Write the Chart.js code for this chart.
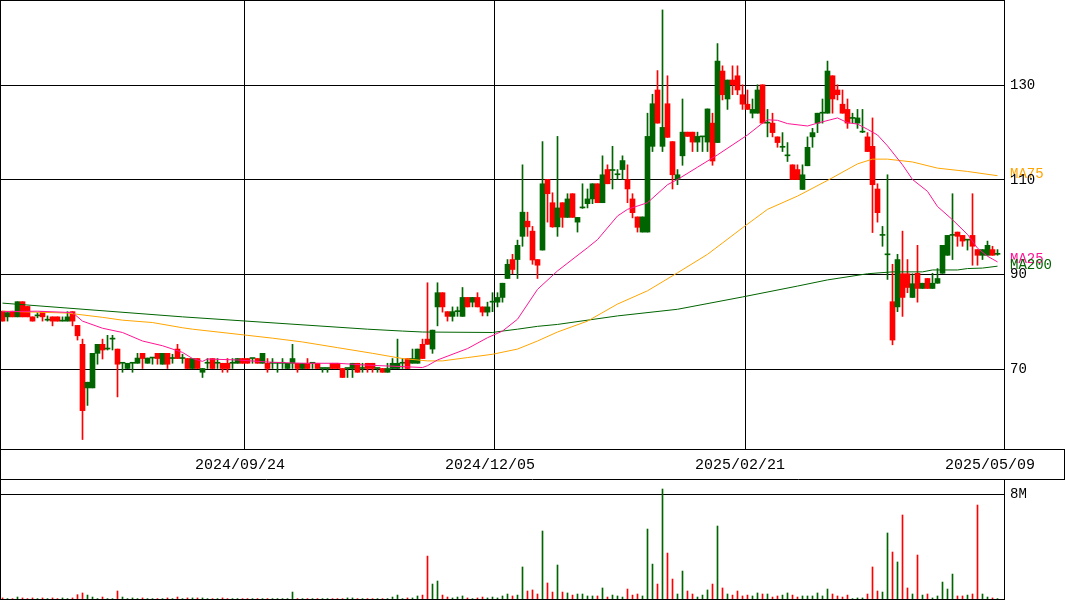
<!DOCTYPE html>
<html>
<head>
<meta charset="utf-8">
<script src="https://cdn.jsdelivr.net/npm/chart.js@4.4.1/dist/chart.umd.min.js"></script>
<style>
  html, body { margin: 0; padding: 0; background: #fff; }
  #wrap { position: relative; width: 1065px; height: 600px; }
  #price { position: absolute; left: 0; top: 0; }
  #volume { position: absolute; left: 0; top: 479px; }
</style>
</head>
<body>
<div id="wrap">
  <canvas id="price" width="1065" height="479"></canvas>
  <canvas id="volume" width="1065" height="121"></canvas>
</div>
<script>
// Daily candles, oldest first (200 sessions)
const openP = [
  82.3, 81.1, 82.3, 81.1, 84.3, 83.3, 81.1, 81.3, 82.2, 80.4,
  81.1, 81.1, 80.2, 80.2, 82.2, 79.3, 75.3, 66.1, 66.1, 73.4,
  75.3, 74.3, 76.4, 74.3, 71.3, 70.2, 71.3, 71.3, 73.4, 71.3,
  72.4, 73.4, 71.1, 73.4, 72.3, 74.3, 72.3, 72.3, 70.2, 72.3,
  69.4, 71.3, 72.3, 71.3, 71.3, 71.3, 71.3, 71.3, 72.3, 72.3,
  72.3, 72.3, 71.3, 71.3, 71.3, 71.3, 71.3, 70.2, 71.3, 71.3,
  70.2, 71.3, 71.3, 71.3, 70.2, 70.2, 71.3, 71.3, 70.2, 70.2,
  70.2, 71.3, 70.2, 71.3, 71.3, 70.2, 70.2, 69.4, 70.2, 70.2,
  71.3, 72.3, 71.3, 71.3, 75.3, 76.4, 74.3, 83.2, 86.2, 82.2,
  81.2, 82.2, 81.2, 85.2, 84.2, 85.2, 83.2, 82.1, 84.2, 84.2,
  85.2, 89.2, 93.2, 93.2, 98.1, 101.3, 99.2, 93.2, 95.2, 110.1,
  105.2, 100.1, 105.2, 102.1, 107.1, 101.1, 104.1, 105.0, 106.0, 109.2,
  105.2, 112.2, 112.0, 111.1, 112.2, 110.1, 106.0, 102.2, 99.0, 99.0,
  117.1, 129.0, 117.1, 126.1, 118.1, 110.1, 115.1, 120.1, 120.1, 118.0,
  119.1, 118.0, 122.0, 117.9, 133.0, 127.1, 131.1, 132.0, 128.0, 126.0,
  124.1, 124.1, 130.1, 122.0, 122.0, 119.1, 116.9, 115.1, 113.2, 112.2,
  108.0, 113.0, 119.1, 122.0, 124.1, 124.1, 132.0, 129.0, 126.0, 124.9,
  123.0, 122.0, 120.1, 119.1, 117.1, 108.1, 98.3, 94.2, 84.3, 83.2,
  90.2, 90.2, 85.2, 90.3, 87.1, 89.2, 87.1, 88.2, 90.3, 94.1,
  98.3, 99.0, 98.3, 97.3, 98.3, 95.3, 94.1, 94.1, 95.3, 94.3
];
const highP = [
  82.3, 82.0, 82.3, 84.3, 84.3, 83.3, 81.1, 82.0, 82.2, 81.3,
  81.1, 81.1, 81.1, 82.2, 82.2, 79.3, 76.4, 67.3, 73.4, 75.3,
  76.4, 77.2, 77.2, 74.3, 71.3, 71.3, 71.3, 73.4, 73.4, 72.4,
  72.4, 73.4, 73.4, 73.4, 73.2, 75.3, 73.2, 72.3, 72.3, 72.3,
  70.2, 72.3, 72.3, 72.3, 71.3, 72.3, 72.3, 72.3, 72.3, 72.3,
  72.3, 72.3, 73.4, 72.3, 72.3, 71.3, 72.3, 71.3, 75.3, 71.3,
  71.3, 72.3, 71.3, 71.3, 70.2, 70.2, 71.3, 71.3, 70.2, 70.2,
  71.3, 71.3, 71.3, 71.3, 71.3, 70.2, 70.2, 71.3, 72.3, 76.4,
  72.3, 72.3, 74.3, 74.3, 76.4, 88.3, 78.3, 88.3, 86.2, 82.2,
  83.2, 83.2, 87.3, 85.2, 85.2, 86.2, 83.2, 84.2, 86.2, 86.2,
  88.2, 93.2, 94.3, 97.3, 113.2, 103.2, 100.2, 93.2, 118.1, 110.1,
  107.3, 119.2, 105.2, 107.1, 107.1, 102.1, 109.2, 108.1, 109.2, 109.2,
  115.1, 113.2, 117.1, 112.2, 115.1, 113.2, 107.1, 102.2, 102.2, 124.1,
  128.1, 133.1, 145.9, 132.0, 118.1, 112.2, 127.1, 120.1, 120.1, 120.1,
  119.1, 125.0, 124.1, 138.8, 134.1, 131.1, 134.1, 134.1, 130.1, 129.0,
  127.1, 130.1, 130.1, 124.9, 124.1, 119.1, 120.0, 117.9, 113.2, 113.2,
  113.2, 119.1, 120.9, 124.1, 127.1, 135.1, 132.0, 130.1, 129.0, 127.1,
  124.1, 124.9, 124.9, 120.0, 123.1, 109.2, 100.2, 111.1, 92.2, 94.3,
  99.2, 93.2, 90.2, 96.2, 88.2, 89.2, 90.3, 91.3, 96.2, 98.3,
  107.1, 99.0, 98.3, 97.3, 107.1, 95.3, 95.3, 97.1, 96.0, 95.3
];
const lowP = [
  80.2, 80.2, 81.1, 81.1, 81.1, 81.1, 80.2, 80.9, 80.2, 80.2,
  79.2, 80.2, 80.2, 80.2, 79.2, 76.2, 55.2, 62.4, 66.1, 71.1,
  72.2, 74.1, 74.1, 64.2, 69.4, 70.2, 69.4, 71.3, 70.2, 71.3,
  71.1, 71.1, 71.1, 70.2, 71.3, 72.3, 71.3, 70.2, 70.2, 70.2,
  68.3, 70.2, 70.2, 70.2, 69.4, 69.4, 70.2, 71.3, 71.3, 71.3,
  71.3, 71.3, 71.3, 69.4, 70.2, 69.4, 70.2, 70.2, 70.2, 69.4,
  70.2, 70.2, 70.2, 70.2, 69.4, 69.4, 70.2, 70.2, 68.3, 68.3,
  68.3, 69.4, 69.4, 69.4, 69.4, 69.4, 69.4, 69.4, 70.2, 70.2,
  70.2, 70.2, 71.3, 71.3, 72.3, 75.3, 73.4, 79.2, 82.1, 80.2,
  80.2, 81.2, 81.2, 83.2, 83.2, 83.2, 81.3, 81.3, 82.2, 83.2,
  84.2, 89.2, 90.2, 89.2, 96.0, 98.1, 92.2, 89.2, 95.2, 101.1,
  100.0, 98.1, 100.0, 102.1, 102.1, 99.0, 104.0, 104.1, 105.0, 105.2,
  105.2, 109.2, 108.1, 110.1, 110.1, 105.2, 102.0, 99.0, 99.0, 99.0,
  116.0, 122.0, 116.0, 119.0, 108.1, 109.0, 113.1, 119.2, 116.0, 116.0,
  116.0, 116.0, 113.1, 117.9, 126.9, 124.9, 128.0, 128.0, 124.9, 124.9,
  123.1, 124.1, 122.0, 119.1, 119.1, 116.9, 116.0, 113.9, 110.1, 110.1,
  108.0, 113.0, 116.9, 120.0, 122.0, 124.1, 124.1, 126.9, 124.1, 120.9,
  122.0, 120.9, 120.0, 116.0, 98.9, 101.1, 96.0, 89.0, 75.2, 82.2,
  81.2, 86.2, 85.2, 84.2, 87.1, 87.1, 87.1, 88.2, 90.3, 94.1,
  93.2, 96.0, 96.0, 95.2, 92.0, 92.0, 93.2, 94.1, 94.1, 94.1
];
const closeP = [
  80.2, 82.0, 81.1, 84.3, 81.1, 81.1, 80.2, 81.3, 81.1, 80.4,
  80.2, 80.2, 80.2, 81.1, 80.2, 77.1, 61.3, 67.3, 73.4, 75.3,
  74.1, 74.3, 76.4, 71.1, 71.3, 71.3, 71.3, 72.4, 72.3, 72.4,
  72.4, 72.3, 73.4, 71.1, 72.3, 72.3, 72.3, 70.2, 72.3, 70.2,
  70.2, 71.3, 70.2, 71.3, 70.2, 70.2, 71.3, 72.3, 71.3, 71.3,
  72.3, 71.3, 73.4, 70.2, 71.3, 71.3, 71.3, 71.3, 72.3, 70.2,
  71.3, 70.2, 71.3, 70.2, 70.2, 70.2, 70.2, 70.2, 68.3, 70.2,
  71.3, 69.4, 70.2, 70.2, 70.2, 70.2, 69.4, 70.2, 71.3, 71.3,
  71.3, 70.2, 72.3, 74.3, 72.3, 75.3, 78.3, 86.2, 83.2, 81.2,
  82.2, 82.2, 85.2, 83.2, 85.2, 83.2, 82.1, 83.2, 84.2, 85.2,
  88.2, 92.2, 91.1, 96.2, 103.2, 100.1, 93.1, 92.0, 109.2, 107.1,
  100.1, 104.1, 102.1, 106.0, 102.1, 102.1, 104.1, 106.0, 109.2, 105.2,
  111.1, 109.2, 112.0, 111.1, 114.1, 108.1, 103.1, 100.0, 102.2, 119.2,
  126.1, 122.0, 121.1, 119.0, 111.1, 111.1, 120.1, 119.2, 118.0, 119.2,
  119.1, 125.0, 114.0, 135.1, 128.0, 131.1, 130.1, 129.0, 126.0, 124.9,
  124.9, 129.0, 122.0, 122.0, 120.0, 117.9, 116.9, 115.1, 110.1, 110.1,
  111.1, 116.9, 120.0, 124.1, 124.1, 133.0, 127.1, 128.0, 124.1, 122.0,
  123.0, 123.1, 120.1, 116.0, 109.0, 103.1, 98.3, 94.2, 76.2, 93.2,
  85.2, 87.3, 88.1, 87.1, 88.2, 87.1, 88.2, 89.2, 96.2, 98.3,
  98.3, 98.1, 97.1, 97.3, 96.0, 94.1, 95.3, 96.2, 94.1, 94.3
];
// Volume in millions of shares
const volumeM = [
  0.08, 0.03, 0.03, 0.15, 0.08, 0.03, 0.08, 0.03, 0.08, 0.03,
  0.08, 0.03, 0.08, 0.03, 0.08, 0.33, 0.46, 0.30, 0.15, 0.03,
  0.15, 0.03, 0.03, 0.61, 0.15, 0.03, 0.08, 0.03, 0.08, 0.03,
  0.03, 0.03, 0.03, 0.08, 0.03, 0.15, 0.03, 0.08, 0.08, 0.08,
  0.08, 0.03, 0.03, 0.03, 0.08, 0.03, 0.03, 0.03, 0.03, 0.03,
  0.03, 0.03, 0.03, 0.03, 0.03, 0.03, 0.03, 0.03, 0.53, 0.03,
  0.03, 0.03, 0.03, 0.03, 0.03, 0.03, 0.03, 0.03, 0.03, 0.08,
  0.08, 0.03, 0.03, 0.03, 0.03, 0.03, 0.03, 0.03, 0.15, 0.30,
  0.03, 0.08, 0.08, 0.23, 0.30, 3.27, 1.14, 1.37, 0.30, 0.15,
  0.08, 0.15, 0.23, 0.08, 0.03, 0.08, 0.15, 0.08, 0.15, 0.08,
  0.23, 0.38, 0.23, 0.30, 2.44, 0.61, 0.69, 0.38, 5.18, 1.22,
  0.53, 2.59, 0.53, 0.46, 0.30, 0.38, 0.38, 0.23, 0.23, 0.23,
  0.84, 0.15, 0.30, 0.23, 0.15, 0.76, 0.30, 0.38, 0.23, 5.33,
  2.66, 1.14, 8.38, 3.50, 1.52, 0.38, 2.13, 0.61, 0.38, 0.15,
  0.30, 0.69, 1.14, 5.56, 0.84, 0.38, 0.30, 0.61, 0.23, 0.30,
  0.23, 0.46, 0.38, 0.38, 0.15, 0.23, 0.30, 0.46, 0.30, 0.15,
  0.23, 0.23, 0.23, 0.46, 0.23, 0.76, 0.38, 0.23, 0.15, 0.30,
  0.03, 0.08, 0.08, 0.38, 2.44, 0.61, 0.53, 5.03, 3.58, 2.82,
  6.40, 0.84, 0.38, 3.35, 0.30, 0.38, 0.08, 0.23, 1.29, 0.76,
  1.90, 0.23, 0.23, 0.30, 0.38, 7.16, 0.38, 0.15, 0.08, 0.03
];

// Moving averages, sampled at session indices
const ma25Idx = [0, 7, 14, 16, 20, 24, 28, 32, 36, 38, 40, 41, 47, 51, 54, 60, 67, 73, 80, 84, 85, 87, 93, 97, 100, 103, 107, 111, 117, 119, 123, 125, 129, 133, 135, 139, 143, 149, 152, 153, 155, 157, 161, 163, 167, 169, 171, 173, 175, 177, 180, 182, 185, 187, 190, 193, 195, 197, 199];
const ma25Val = [82.2, 82.3, 82.0, 80.2, 78.7, 77.8, 76.0, 75.0, 73.6, 72.3, 71.7, 72.2, 72.0, 71.7, 71.5, 71.3, 71.3, 70.9, 70.6, 70.4, 70.8, 72.0, 74.4, 76.7, 78.1, 80.6, 86.9, 90.8, 95.7, 97.4, 102.4, 103.8, 105.2, 109.0, 110.1, 112.7, 115.3, 119.5, 122.0, 122.7, 122.6, 121.9, 121.4, 122.0, 123.1, 122.1, 121.8, 120.7, 119.5, 117.2, 113.2, 110.1, 107.6, 104.4, 101.6, 98.5, 95.6, 93.9, 92.7];
const ma75Idx = [0, 13, 20, 24, 30, 36, 38, 49, 54, 60, 67, 74, 80, 85, 88, 93, 98, 103, 107, 111, 117, 123, 129, 135, 141, 148, 153, 159, 165, 171, 174, 177, 182, 187, 193, 199];
const ma75Val = [82.3, 81.9, 81.0, 80.4, 79.9, 78.8, 78.5, 77.2, 76.6, 75.8, 74.6, 73.4, 72.3, 71.8, 71.8, 72.5, 73.2, 74.3, 76.0, 77.9, 80.2, 83.8, 86.6, 90.4, 94.3, 99.9, 103.8, 106.6, 109.9, 113.4, 114.4, 114.4, 113.8, 112.5, 111.8, 110.9];
const ma200Idx = [0, 36, 73, 80, 84, 98, 100, 103, 107, 111, 123, 135, 148, 159, 165, 173, 178, 184, 186, 191, 193, 196, 199];
const ma200Val = [84.0, 81.1, 78.5, 78.1, 77.9, 77.8, 78.1, 78.5, 79.1, 79.5, 81.3, 82.7, 85.3, 87.6, 88.9, 90.2, 90.6, 90.6, 91.0, 91.0, 91.3, 91.4, 91.8];

// Axis labels
const priceTicks = [70, 90, 110, 130];
const volumeTicks = [8];
const dateIdx = [49, 99, 149, 199];
const dateLabels = ['2024/09/24', '2024/12/05', '2025/02/21', '2025/05/09'];

const UP = '#006400', DOWN = '#ff0000';
const MA25C = '#ff1493', MA75C = '#ffa500', MA200C = '#006400';
const AXIS_FONT = { family: 'Liberation Mono', size: 14 };

const idx = openP.map((_, i) => i);
const candleColor = idx.map(i => closeP[i] >= openP[i] ? UP : DOWN);
const pts = (xs, ys) => xs.map((x, k) => ({ x, y: ys[k] }));

function zeroPad(a) { a.paddingLeft = 0; a.paddingRight = 0; a.paddingTop = 0; a.paddingBottom = 0; }

const xRange = { type: 'linear', min: -0.5, max: 200.3, offset: false };

// frame lines around the price panel and the date strip
const priceFrame = {
  id: 'priceFrame',
  afterDraw(chart) {
    const c = chart.ctx, a = chart.chartArea;
    c.save();
    c.strokeStyle = '#000';
    c.lineWidth = 1;
    c.beginPath();
    c.moveTo(0, 0.5); c.lineTo(a.right, 0.5);
    c.moveTo(0.5, 0); c.lineTo(0.5, chart.height);
    c.moveTo(0, a.bottom + 0.5); c.lineTo(chart.width, a.bottom + 0.5);
    c.moveTo(chart.width - 0.5, a.bottom); c.lineTo(chart.width - 0.5, chart.height);
    c.stroke();
    c.restore();
  }
};

// moving-average names at the right edge, next to each line's last value
const maTags = {
  id: 'maTags',
  afterDatasetsDraw(chart) {
    const c = chart.ctx, ys = chart.scales.y, x = chart.chartArea.right + 6;
    c.save();
    c.font = '14px "Liberation Mono"';
    c.textAlign = 'left';
    c.textBaseline = 'middle';
    [['MA75', ma75Val, MA75C, -2], ['MA25', ma25Val, MA25C, -3], ['MA200', ma200Val, MA200C, -1]].forEach(([t, v, col, dy]) => {
      c.fillStyle = col;
      c.fillText(t, x, Math.round(ys.getPixelForValue(v[v.length - 1])) + dy);
    });
    c.restore();
  }
};

new Chart(document.getElementById('price'), {
  type: 'bar',
  data: {
    datasets: [
      { type: 'line', label: 'MA25', data: pts(ma25Idx, ma25Val), borderColor: MA25C, borderWidth: 1, pointRadius: 0, tension: 0, order: 0 },
      { type: 'line', label: 'MA75', data: pts(ma75Idx, ma75Val), borderColor: MA75C, borderWidth: 1, pointRadius: 0, tension: 0, order: 0 },
      { type: 'line', label: 'MA200', data: pts(ma200Idx, ma200Val), borderColor: MA200C, borderWidth: 1, pointRadius: 0, tension: 0, order: 0 },
      { label: 'body', data: idx.map(i => ({ x: i, y: [openP[i], closeP[i]] })), backgroundColor: candleColor, borderWidth: 0,
        barPercentage: 1, categoryPercentage: 1, minBarLength: 1, grouped: false, order: 1 },
      { label: 'wick', data: idx.map(i => ({ x: i, y: [lowP[i], highP[i]] })), backgroundColor: candleColor, borderWidth: 0,
        barThickness: 1, grouped: false, order: 2 }
    ]
  },
  options: {
    responsive: false,
    animation: false,
    devicePixelRatio: 1,
    layout: { padding: 0 },
    plugins: { legend: { display: false }, tooltip: { enabled: false } },
    scales: {
      x: Object.assign({}, xRange, {
        afterBuildTicks: a => { a.ticks = dateIdx.map(i => ({ value: i - 0.5 })); },
        afterFit: a => { a.height = 30; zeroPad(a); },
        grid: { drawTicks: false, offset: false, lineWidth: 1,
          color: c => (c.tick && c.tick.value < 198) ? '#000' : 'rgba(0,0,0,0)' },
        border: { display: true, color: '#000' },
        ticks: { autoSkip: false, maxRotation: 0, minRotation: 0, labelOffset: -5, padding: 7, color: '#000',
          font: { family: 'Liberation Mono', size: 15 },
          callback: v => { const k = dateIdx.indexOf(Math.round(v + 0.5)); return k >= 0 ? dateLabels[k] : ''; } }
      }),
      y: {
        position: 'right', min: 53.2, max: 148,
        afterBuildTicks: a => { a.ticks = priceTicks.map(v => ({ value: v })); },
        afterFit: a => { a.width = 61; zeroPad(a); },
        grid: { drawTicks: false, color: '#000', lineWidth: 1 },
        border: { display: true, color: '#000' },
        ticks: { padding: 6, color: '#000', font: AXIS_FONT, z: 1 }
      }
    }
  },
  plugins: [priceFrame, maTags]
});

const volumeFrame = {
  id: 'volumeFrame',
  afterDraw(chart) {
    const c = chart.ctx, a = chart.chartArea;
    c.save();
    c.strokeStyle = '#000';
    c.lineWidth = 1;
    c.beginPath();
    c.moveTo(0, 0.5); c.lineTo(chart.width, 0.5);
    c.moveTo(0.5, 0); c.lineTo(0.5, chart.height);
    c.moveTo(0, a.bottom + 0.5); c.lineTo(a.right, a.bottom + 0.5);
    c.stroke();
    c.restore();
  }
};

new Chart(document.getElementById('volume'), {
  type: 'bar',
  data: {
    datasets: [
      { label: 'volume', data: idx.map(i => ({ x: i, y: volumeM[i] })), backgroundColor: candleColor, borderWidth: 0, barThickness: 1 }
    ]
  },
  options: {
    responsive: false,
    animation: false,
    devicePixelRatio: 1,
    layout: { padding: { top: 0, left: 0, right: 0, bottom: 1 } },
    plugins: { legend: { display: false }, tooltip: { enabled: false } },
    scales: {
      x: Object.assign({}, xRange, { display: false }),
      y: {
        position: 'right', min: 0, max: 9.143,
        afterBuildTicks: a => { a.ticks = volumeTicks.map(v => ({ value: v })); },
        afterFit: a => { a.width = 61; zeroPad(a); },
        grid: { drawTicks: false, color: '#000', lineWidth: 1 },
        border: { display: true, color: '#000' },
        ticks: { padding: 6, color: '#000', font: AXIS_FONT, callback: v => v + 'M' }
      }
    }
  },
  plugins: [volumeFrame]
});
</script>
</body>
</html>
